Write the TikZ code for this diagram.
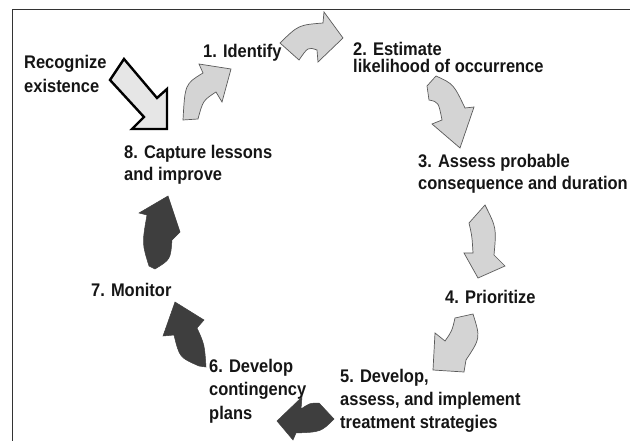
\documentclass[tikz,border=0pt]{standalone}
\usepackage{fontspec}
\setmainfont{Liberation Sans}[FakeStretch=0.9]
\definecolor{lightgrey}{HTML}{D4D4D4}
\definecolor{edgegrey}{HTML}{5A5A5A}
\definecolor{darkgrey}{HTML}{3E3E3E}
\definecolor{recfill}{HTML}{E6E6E6}
\definecolor{inkblack}{HTML}{151515}
\definecolor{framegrey}{HTML}{333333}
\begin{document}
\begin{tikzpicture}[x=1pt,y=-1pt,
  lbl/.style={font=\bfseries\fontsize{18.3}{#1}\selectfont, text=inkblack,
              inner sep=0pt, anchor=base west, align=left},
  lbl/.default=22,
  lightarrow/.style={fill=lightgrey, draw=edgegrey, line width=0.7pt, line join=miter},
  darkarrow/.style={fill=darkgrey, draw=darkgrey, line width=0.5pt, line join=miter},
  entryarrow/.style={fill=recfill, draw=black, line width=2.4pt, line join=miter}]
\useasboundingbox (0,0) rectangle (630,441);

% frame (only top and left edges fall inside the page)
\coordinate (fbl) at (12.5,445);
\coordinate (ftl) at (12.5,9.5);
\coordinate (ftr) at (635,9.5);
\draw[framegrey, line width=1.8pt] (fbl) -- (ftl) -- (ftr);

% step labels (anchored on the baseline of their last line)
\node[lbl=24] (rec) at (24,93) {Recognize\\existence};
\node[lbl] (s1) at (203,58) {1. Identify};
\node[lbl=17] (s2) at (353,73) {2. Estimate\\likelihood of occurrence};
\node[lbl=21.5] (s3) at (418,189.5) {3. Assess probable\\consequence and duration};
\node[lbl] (s4) at (445,303) {4. Prioritize};
\node[lbl=23] (s5) at (340,428.5) {5. Develop,\\assess, and implement\\treatment strategies};
\node[lbl=23.3] (s6) at (209,419) {6. Develop\\contingency\\plans};
\node[lbl] (s7) at (91,296) {7. Monitor};
\node[lbl=22] (s8) at (124,181) {8. Capture lessons\\and improve};

% entry arrow: recognize existence
\draw[entryarrow] (124,59) -- (157,98) -- (167,89) -- (167,129) -- (132,129)
  -- (144,117) -- (110,80) -- cycle;

% 8 -> 1
\draw[lightarrow] (183,120) .. controls (185,84) .. (203,73) -- (199,64) -- (231,69)
  -- (222,102) -- (216,92) .. controls (203,100.5) .. (198,119) -- cycle;

% 1 -> 2
\draw[lightarrow] (280,43) .. controls (298.5,25) .. (323,23) -- (324,12) -- (343,38)
  -- (318,62) -- (317,50) .. controls (308,47) .. (299,60) -- cycle;

% 2 -> 3
\draw[lightarrow] (436,76) .. controls (453.5,84) .. (465,108) -- (474,107) -- (460,148)
  -- (432,124) -- (442,120) .. controls (438.5,102) .. (429,100) -- (427,86) -- cycle;

% 3 -> 4
\draw[lightarrow] (485,205) .. controls (496.5,228) .. (494,255) -- (505,266) -- (478,278)
  -- (464,253) -- (473,253) .. controls (472,236) .. (469,223) -- cycle;

% 4 -> 5
\draw[lightarrow] (473,314) .. controls (480.5,338) .. (466,360) -- (464,372) -- (433,370)
  -- (435,333) -- (445,341) .. controls (452,331) .. (455,318) -- cycle;

% 5 -> 6
\draw[darkarrow] (277,421) -- (302,397) -- (301,409) .. controls (310,403) .. (319,403)
  -- (334,419) .. controls (321,432) .. (296,433) -- (293,440) -- cycle;

% 6 -> 7
\draw[darkarrow] (175,302) -- (204,320) -- (197,328) .. controls (204.5,344.5) .. (206,367)
  -- (199,366) .. controls (179.5,357.5) .. (174,335) -- (163,336) -- cycle;

% 7 -> 8
\draw[darkarrow] (168,196) -- (180,232) -- (172,240) .. controls (170.5,259.5) .. (155,269)
  -- (149,266) .. controls (142,243.5) .. (147,215) -- (139,213) -- cycle;
\end{tikzpicture}
\end{document}
